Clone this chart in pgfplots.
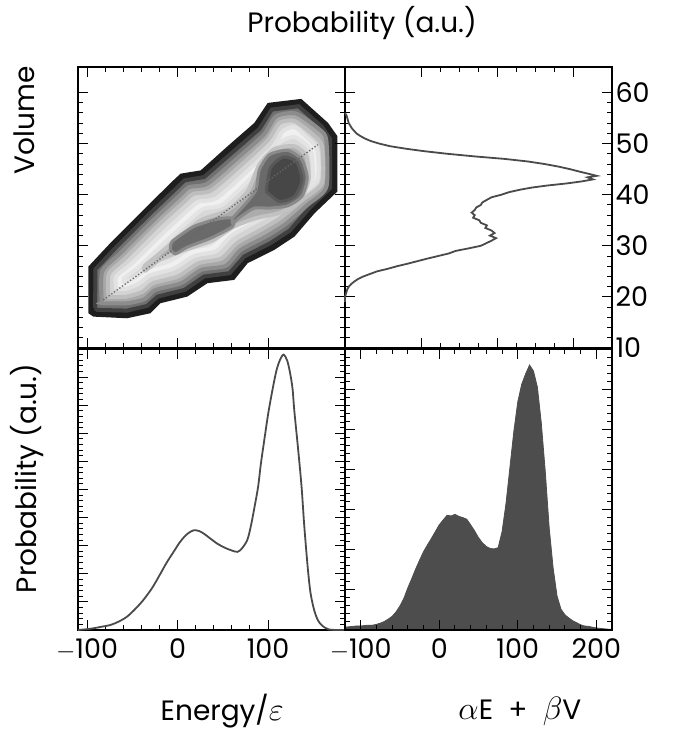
\documentclass[border=0pt]{standalone}
\usepackage{graphicx}
\usepackage{pgfplots}
\pgfplotsset{compat=1.18}
\usepackage{fontspec}
\setmainfont{Poppins}
\definecolor{lvA}{HTML}{1E1E1E}
\definecolor{lvB}{HTML}{707070}
\definecolor{lvBd}{HTML}{404040}
\definecolor{lvC}{HTML}{A8A8A8}
\definecolor{lvCd}{HTML}{8C8C8C}
\definecolor{lvD}{HTML}{D4D4D4}
\definecolor{lvDd}{HTML}{BEBEBE}
\definecolor{lvE}{HTML}{F0F0F0}
\definecolor{lvEd}{HTML}{E2E2E2}
\definecolor{lvF}{HTML}{D8D8D8}
\definecolor{lvFd}{HTML}{E4E4E4}
\definecolor{lvG}{HTML}{ACACAC}
\definecolor{lvGd}{HTML}{C2C2C2}
\definecolor{lvH}{HTML}{6A6A6A}
\definecolor{lvHd}{HTML}{8A8A8A}
\definecolor{lvI}{HTML}{474747}
\definecolor{lvId}{HTML}{585858}
\definecolor{curve}{HTML}{4A4A4A}
\definecolor{hist}{HTML}{4D4D4D}
\newcommand{\tickfont}{\fontsize{27}{30}\selectfont}
\newcommand{\labfont}{\fontsize{28}{32}\selectfont}
\newcommand{\bigsym}[1]{\scalebox{1.3}{$#1$}}
\pgfplotsset{
  panel/.style={
    scale only axis, width=267pt, height=281pt, anchor=south west,
    clip=false,
    axis line style={line width=2pt},
    tick align=inside, major tick length=10pt, minor tick length=5pt,
    tick style={black, line width=1pt},
    tick label style={font=\tickfont},
    xticklabel style={yshift=-5pt},
    /pgf/number format/assume math mode=true,
  },
  lev/.style={fill=#1, draw=#1d, line width=4pt, smooth, tension=0.4}
}
\begin{document}
\begin{tikzpicture}
\useasboundingbox (0,0) rectangle (672pt,744pt);
% ---------------- top left: contour ----------------
\begin{axis}[panel, at={(78pt,396pt)}, axis on top,
  xmin=-110, xmax=185, ymin=10, ymax=65,
  xtick={-100,0,100}, minor x tick num=4, xticklabels={},
  ytick={10,20,...,60}, minor y tick num=4, yticklabels={}]
\addplot[fill=lvA, draw=none] coordinates {(-98.5,16.80) (-98.5,25.95) (-74.4,30.52) (-37.4,37.06) (-7.8,42.29) (3.3,44.12) (25.6,44.77) (55.2,49.48) (84.8,54.05) (99.6,57.97) (136.7,58.76) (166.3,54.05) (176.7,51.44) (176.7,40.65) (151.5,36.40) (129.3,31.83) (107.0,29.21) (77.4,26.60) (62.6,23.33) (33.0,22.68) (10.7,20.06) (-18.9,18.76) (-30.0,16.80) (-55.9,15.82) (-93.0,16.14)};
\addplot[fill=lvB, draw=lvBd, line width=4pt] coordinates {(-91.1,17.78) (-90.7,25.42) (-68.9,29.54) (-31.9,36.08) (-2.2,41.11) (7.8,42.81) (29.3,43.46) (60.7,48.30) (90.4,52.87) (104.1,56.67) (133.7,57.32) (159.6,53.27) (168.5,50.91) (168.5,41.31) (145.9,37.45) (124.1,33.01) (102.6,30.52) (73.7,27.91) (57.4,24.64) (29.3,23.99) (7.8,21.37) (-21.9,20.06) (-33.7,18.23) (-55.9,17.32) (-88.5,17.45) (-91.1,17.78)};
\addplot[lev=lvC] coordinates {(-83.7,18.89) (-83.3,24.97) (-63.3,28.56) (-26.3,35.10) (3.3,40.00) (12.6,41.50) (33.0,42.16) (66.3,47.19) (95.2,51.76) (108.9,55.36) (131.1,55.88) (157.0,52.74) (164.4,50.65) (164.4,41.50) (143.3,37.97) (118.9,34.18) (97.8,31.83) (70.0,29.21) (53.3,26.08) (26.3,25.29) (4.1,22.68) (-24.4,21.37) (-36.7,19.54) (-55.9,18.76) (-82.6,18.76) (-83.7,18.89)};
\addplot[lev=lvD] coordinates {(-76.3,20.06) (-75.9,24.51) (-57.8,27.58) (-20.7,34.12) (8.9,38.89) (17.4,40.19) (37.4,40.85) (71.9,46.08) (99.6,50.65) (112.6,54.05) (129.3,54.44) (149.6,51.76) (159.6,49.48) (159.6,42.29) (137.4,38.89) (113.0,35.36) (92.2,33.14) (65.6,30.52) (48.5,27.51) (23.3,26.60) (0.4,23.99) (-27.0,22.68) (-38.9,20.98) (-55.9,20.06) (-74.4,19.93) (-76.3,20.06)};
\addplot[lev=lvE] coordinates {(-67.8,21.50) (-67.8,23.99) (-50.4,26.60) (-14.4,32.81) (15.2,37.58) (23.7,38.69) (43.3,39.35) (78.1,44.77) (105.2,49.35) (116.3,52.42) (129.3,53.27) (142.2,51.31) (154.4,48.82) (154.4,42.81) (132.2,39.67) (106.3,36.67) (85.6,34.57) (59.6,31.96) (42.6,28.95) (18.9,28.04) (-4.1,25.55) (-30.0,24.25) (-41.9,22.68) (-55.9,21.63) (-67.8,21.50)};
\addplot[lev=lvF] coordinates {(-59.6,22.68) (-58.9,23.66) (-43.0,25.82) (-7.8,31.70) (21.9,36.40) (31.1,37.38) (49.6,38.04) (81.1,43.27) (103.3,48.17) (114.4,50.46) (129.3,51.31) (144.1,49.48) (148.5,47.51) (148.5,42.61) (129.3,39.35) (107.0,37.71) (79.3,35.88) (53.7,33.27) (36.7,30.39) (14.4,29.48) (-7.8,27.12) (-33.0,25.62) (-45.6,23.99) (-59.6,22.68)};
\addplot[lev=lvG] coordinates {(-37.4,25.95) (-7.8,30.19) (25.6,34.97) (55.2,36.93) (77.4,40.65) (90.4,45.88) (107.0,48.95) (129.3,49.48) (142.2,47.51) (144.8,42.94) (134.8,38.89) (114.4,36.53) (86.7,35.42) (62.6,33.79) (38.5,31.04) (10.7,29.35) (-18.9,27.38) (-35.6,25.16) (-37.4,25.95)};
\addplot[lev=lvH, line width=3pt] coordinates {(-7.8,29.21) (-5.9,30.85) (18.1,33.79) (44.1,35.23) (60.7,35.42) (60.7,33.79) (36.7,31.50) (10.7,29.74) (-2.2,28.43) (-7.8,29.21)};
\addplot[lev=lvH, line width=3pt] coordinates {(60.7,35.42) (77.4,38.69) (86.7,40.98) (90.4,44.90) (101.5,47.84) (121.9,48.69) (137.4,46.86) (143.3,43.27) (137.4,39.67) (121.9,37.84) (101.5,37.38) (84.8,37.38) (70.0,35.75) (60.7,34.44) (60.7,35.42)};
\addplot[lev=lvI, line width=3pt] coordinates {(97.8,40.65) (102.6,45.23) (116.3,47.38) (131.1,46.53) (137.4,42.94) (129.3,39.67) (112.6,38.69) (97.8,40.65)};
\addplot[black!60, dotted, line width=1.3pt] coordinates {(-82,19.4) (155,49.8)};
\node[rotate=90, font=\labfont] at (rel axis cs:-0.2,0.81) {Volume};
\end{axis}
% ---------------- top right: volume distribution ----------------
\begin{axis}[panel, at={(345pt,396pt)},
  xmin=0, xmax=3.5, ymin=10, ymax=65,
  xtick={1,2,3}, minor x tick num=3, xticklabels={},
  ytick={10,20,...,60}, minor y tick num=4, yticklabel pos=right]
\addplot[curve, line width=1.8pt] coordinates {
(0.00,56.0) (0.02,55.5) (0.03,55.0) (0.04,54.5) (0.05,54.0) (0.07,53.5) (0.09,53.0) (0.12,52.5) (0.15,52.0) (0.20,51.5) (0.26,51.0) (0.34,50.5) (0.45,50.0) (0.59,49.5) (0.80,49.0) (1.05,48.5) (1.35,48.0) (1.70,47.5) (2.10,47.0) (2.40,46.5) (2.62,46.0) (2.80,45.5) (2.95,45.0) (3.08,44.5) (3.22,44.0) (3.30,43.7) (3.18,43.4) (3.25,43.0) (3.10,42.6) (2.90,42.2) (2.65,41.8) (2.45,41.4) (2.30,41.0) (2.15,40.5) (2.05,40.0) (1.92,39.5) (1.86,39.0) (1.80,38.5) (1.78,38.0) (1.72,37.5) (1.70,37.0) (1.66,36.5) (1.70,36.0) (1.68,35.5) (1.76,35.0) (1.78,34.5) (1.86,34.0) (1.84,33.5) (1.92,33.0) (1.96,32.5) (1.90,32.0) (1.98,31.5) (1.92,31.0) (1.85,30.5) (1.78,30.0) (1.62,29.5) (1.45,29.0) (1.36,28.5) (1.22,28.0) (1.08,27.5) (0.95,27.0) (0.82,26.5) (0.68,26.0) (0.56,25.5) (0.42,25.0) (0.33,24.5) (0.24,24.0) (0.17,23.5) (0.12,23.0) (0.08,22.5) (0.05,22.0) (0.03,21.5) (0.02,21.0) (0.01,20.5) (0.00,20.0) (0.00,19.0)};
\node[font=\labfont, anchor=south] at (rel axis cs:0.064,1) [yshift=24pt] {Probability (a.u.)};
\end{axis}
% ---------------- bottom left: energy distribution ----------------
\begin{axis}[panel, at={(78pt,114pt)},
  xmin=-110, xmax=185, ymin=0, ymax=1,
  xtick={-100,0,100}, xticklabels={$-$100,0,100}, minor x tick num=4,
  ytick={0,0.1,0.2,0.3,0.4,0.5,0.6,0.7,0.8,0.9,1}, minor y tick num=4, yticklabels={}]
\addplot[curve, line width=1.8pt, smooth, tension=0.5] coordinates {
(-110,0.0) (-100,0.003) (-93,0.006) (-85,0.011) (-74,0.018) (-65,0.03) (-56,0.047) (-47,0.074) (-38,0.106) (-28,0.15) (-19,0.20) (-12,0.24) (-4,0.28) (2,0.31) (7,0.33) (12,0.345) (18,0.355) (24,0.352) (29,0.343) (36,0.326) (44,0.307) (52,0.293) (59,0.284) (66,0.278) (71,0.29) (77,0.32) (81,0.37) (85,0.437) (89,0.51) (92,0.59) (96,0.68) (100,0.767) (104,0.84) (109,0.92) (113,0.96) (117,0.98) (121,0.96) (124,0.92) (127,0.86) (129,0.78) (133,0.65) (137,0.51) (140,0.37) (144,0.216) (147,0.13) (151,0.07) (155,0.035) (159,0.018) (163,0.008) (167,0.002) (175,0.0) (185,0.0)};
\node[rotate=90, font=\labfont] at (rel axis cs:-0.19,0.54) {Probability (a.u.)};
\node[font=\labfont] at (rel axis cs:0.54,-0.29) {Energy/\bigsym{\varepsilon}};
\end{axis}
% ---------------- bottom right: histogram ----------------
\begin{axis}[panel, at={(345pt,114pt)}, axis on top,
  xmin=-120, xmax=220, ymin=0, ymax=7,
  xtick={-100,0,100,200}, xticklabels={$-$100,0,100,200}, minor x tick num=4,
  ytick={0,1,...,7}, minor y tick num=4, yticklabels={}]
\addplot[fill=hist, draw=hist, line width=0.8pt] coordinates {
(-120,0.07) (-115,0.08) (-110,0.09) (-105,0.10) (-100,0.10) (-95,0.11) (-90,0.12) (-85,0.12) (-80,0.14) (-75,0.17) (-70,0.21) (-65,0.27) (-60,0.34) (-55,0.45) (-50,0.60) (-45,0.79) (-40,1.05) (-35,1.28) (-30,1.52) (-25,1.74) (-20,1.95) (-15,2.12) (-10,2.28) (-5,2.45) (0,2.62) (5,2.74) (10,2.86) (15,2.84) (20,2.88) (25,2.83) (30,2.80) (35,2.76) (40,2.62) (45,2.47) (50,2.30) (55,2.17) (60,2.08) (65,2.03) (70,2.02) (75,2.05) (80,2.45) (85,3.15) (90,4.05) (95,4.95) (100,5.68) (105,6.12) (110,6.38) (115,6.60) (120,6.45) (125,6.05) (130,5.15) (135,3.95) (140,2.55) (145,1.55) (150,0.85) (155,0.52) (160,0.38) (165,0.30) (170,0.23) (175,0.18) (180,0.13) (185,0.10) (190,0.09) (195,0.07) (200,0.05) (205,0.04) (210,0.03) (215,0.02) (220,0.02)} \closedcycle;
\node[font=\labfont] at (rel axis cs:0.655,-0.29) {\bigsym{\alpha}E\; +\; \bigsym{\beta}V};
\end{axis}
\end{tikzpicture}
\end{document}
